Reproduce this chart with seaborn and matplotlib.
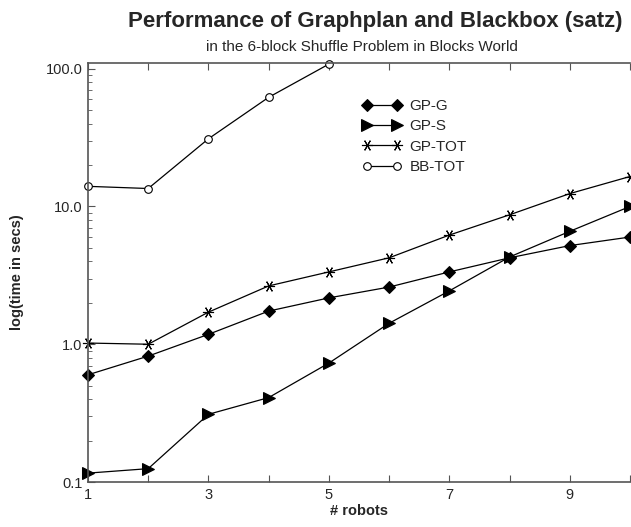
import matplotlib
matplotlib.use("Agg")
import matplotlib.pyplot as plt
import matplotlib.ticker as mticker
import seaborn as sns
import pandas as pd

robots = [1, 2, 3, 4, 5, 6, 7, 8, 9, 10]
gp_g = [0.60, 0.82, 1.18, 1.74, 2.17, 2.60, 3.35, 4.24, 5.2, 6.0]
gp_s = [0.116, 0.125, 0.31, 0.41, 0.73, 1.42, 2.44, 4.3, 6.6, 10.0]
gp_tot = [1.02, 1.0, 1.71, 2.65, 3.35, 4.24, 6.2, 8.7, 12.4, 16.5]
bb_robots = [1, 2, 3, 4, 5]
bb_tot = [14.0, 13.5, 31.0, 62.0, 108.0]

sns.set_style("ticks")
plt.rcParams['font.family'] = ['Liberation Sans', 'DejaVu Sans']

fig = plt.figure(figsize=(6.31, 5.27), dpi=100)
ax = fig.add_axes([88 / 631, 1 - 482 / 527, 542 / 631, (482 - 63) / 527])

series = [
    ("GP-G", robots, gp_g, dict(marker="D", markersize=6, markerfacecolor="black")),
    ("GP-S", robots, gp_s, dict(marker=">", markersize=8.5, markerfacecolor="black")),
    ("GP-TOT", robots, gp_tot, dict(marker=(6, 2, 90), markersize=8, markeredgewidth=0.8)),
    ("BB-TOT", bb_robots, bb_tot, dict(marker="o", markersize=5.5, markerfacecolor="white",
                                        markeredgewidth=0.8)),
]
for name, xs, ys, style in series:
    df = pd.DataFrame({"robots": xs, "time": ys})
    sns.lineplot(data=df, x="robots", y="time", ax=ax, color="black", linewidth=0.9,
                 markeredgecolor="black", label=name, clip_on=False, **style)

ax.set_yscale("log")
ax.set_ylim(0.1, 110)
ax.set_xlim(1, 9.885)
ax.set_yticks([0.1, 1, 10, 100])
ax.set_yticklabels(["0.1", "1.0", "10.0", "100.0"])
ax.yaxis.set_minor_locator(mticker.LogLocator(base=10, subs=range(2, 10)))
ax.yaxis.set_minor_formatter(mticker.NullFormatter())
ax.set_xticks(robots)
ax.set_xticklabels([str(r) if r % 2 == 1 else "" for r in robots])
ax.tick_params(axis="both", which="both", direction="in", top=True, right=False,
               labelsize=10.5, pad=4, color="#555555")
ax.tick_params(axis="both", which="major", length=5)
ax.tick_params(axis="y", which="minor", length=3)
for s in ["left", "top", "bottom"]:
    ax.spines[s].set_color("#555555")
    ax.spines[s].set_linewidth(1.2)
ax.spines["right"].set_visible(False)

ax.set_xlabel("# robots", fontsize=10.5, fontweight="bold", labelpad=2)
ax.set_ylabel("log(time in secs)", fontsize=10.5, fontweight="bold")
ax.yaxis.set_label_coords(-0.119, 0.5)

ax.legend(loc="upper left", bbox_to_anchor=(362 / 631, 1 - 99 / 527),
          bbox_transform=fig.transFigure, frameon=False, fontsize=11,
          numpoints=2, handlelength=2.6, handletextpad=0.5, labelspacing=0.42,
          borderpad=0, borderaxespad=0)

fig.text(375 / 631, 1 - 21 / 527, "Performance of Graphplan and Blackbox (satz)",
         ha="center", va="center", fontsize=16, fontweight="bold")
fig.text(362 / 631, 1 - 47 / 527, "in the 6-block Shuffle Problem in Blocks World",
         ha="center", va="center", fontsize=11)

fig.savefig("out.png", dpi=100)
